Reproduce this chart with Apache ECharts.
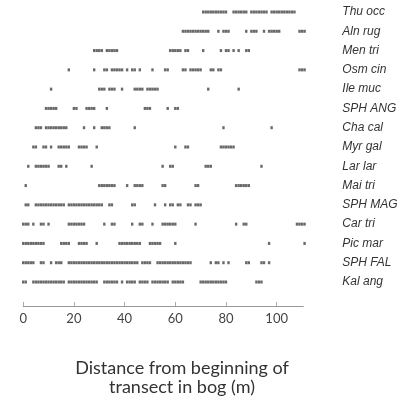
<!DOCTYPE html>
<html>
<head>
<meta charset="utf-8">
<script src="https://cdn.jsdelivr.net/npm/echarts@6/dist/echarts.min.js"></script>
<style>
html,body{margin:0;padding:0;background:#fff;}
#chart{width:408px;height:406px;}
</style>
</head>
<body>
<div id="chart"></div>
<script>
// Species (top to bottom)
const species = ['Thu occ','Aln rug','Men tri','Osm cin','Ile muc','SPH ANG','Cha cal','Myr gal','Lar lar','Mai tri','SPH MAG','Car tri','Pic mar','SPH FAL','Kal ang'];

// Positions (m along transect) where each species was recorded
const thuOcc = [71,72,73,74,75,76,77,78,79,80,83,84,85,86,87,88,90,91,92,93,94,95,96,98,99,100,101,102,103,104,105,106,107];
const alnRug = [63,64,65,66,67,68,69,70,71,72,73,77,79,80,81,88,90,91,92,95,97,98,99,100,101,109,110,111];
const menTri = [28,29,30,31,33,34,35,36,37,58,59,60,61,62,64,65,71,78,80,81,83,85,88,89];
const osmCin = [18,28,32,33,35,36,37,38,39,41,43,44,46,51,56,57,63,64,66,67,68,69,70,74,75,77,78,109,110,111];
const ileMuc = [11,30,31,32,34,35,36,39,44,45,46,47,49,50,51,52,53,73,85];
const sphAng = [9,10,11,12,13,20,21,25,26,27,28,33,48,49,50,57,60,61];
const chaCal = [5,6,7,9,10,11,12,13,14,15,16,17,24,28,31,32,33,34,44,79,98];
const myrGal = [4,5,8,9,11,14,15,16,17,18,22,23,24,25,29,60,64,65,78,79,80,81,82,83];
const larLar = [2,5,6,7,8,9,10,14,15,17,27,55,58,59,72,73,74,94];
const maiTri = [1,30,31,32,33,34,35,36,41,44,45,46,47,55,56,68,69,84,85,86,87,88,89];
const sphMag = [1,2,5,6,7,8,9,10,11,12,13,14,15,16,18,19,20,21,22,23,24,25,26,27,28,29,30,31,34,35,43,44,52,56,58,59,61,62,65,66,68,69,70];
const carTri = [0,1,2,4,7,8,10,18,19,20,21,22,23,24,32,35,36,43,46,47,51,55,56,57,58,59,60,68,84,87,88,108,109,110,111];
const picMar = [0,1,2,3,4,5,6,7,8,15,16,17,18,22,23,24,25,29,38,39,40,41,42,43,44,45,46,50,51,52,53,54,60,97,111];
const sphFal = [0,1,2,3,4,7,8,11,13,14,15,18,19,20,21,22,23,24,25,26,27,28,29,30,31,32,33,34,35,36,37,38,39,40,41,42,43,44,45,47,48,49,50,53,54,55,56,57,58,59,60,61,62,63,64,65,66,74,76,77,79,81,88,89,94,95,97];
const kalAng = [0,1,4,5,6,7,8,9,10,11,12,13,14,15,16,18,19,20,21,22,23,24,25,26,27,28,29,32,33,34,35,36,37,39,41,42,43,44,46,47,48,49,51,52,53,54,55,56,57,59,60,61,62,63,70,71,72,73,74,75,76,77,78,79,80,92,93,94];

const presence = [thuOcc, alnRug, menTri, osmCin, ileMuc, sphAng, chaCal, myrGal, larLar, maiTri, sphMag, carTri, picMar, sphFal, kalAng];

// X axis tick labels
const xTicks = [0, 20, 40, 60, 80, 100];

const data = [];
presence.forEach((arr, i) => arr.forEach(x => data.push([x, species[i]])));

const chart = echarts.init(document.getElementById('chart'), null, {renderer: 'canvas'});
chart.setOption({
  animation: false,
  backgroundColor: '#ffffff',
  title: {
    text: 'Distance from beginning of\ntransect in bog (m)',
    left: 182,
    top: 359,
    textAlign: 'center',
    padding: 0,
    textStyle: {
      fontFamily: 'Lato',
      fontWeight: 'normal',
      fontSize: 18,
      lineHeight: 19,
      color: '#333'
    }
  },
  grid: {left: 23.2, right: 104.7, top: 2.35, bottom: 114.35, containLabel: false},
  xAxis: {
    type: 'value',
    min: 0,
    max: 110.5,
    offset: 14.35,
    splitLine: {show: false},
    axisLine: {show: true, lineStyle: {color: '#999', width: 1}},
    axisTick: {show: true, inside: true, length: 4, lineStyle: {color: '#aaa'}, customValues: xTicks},
    axisLabel: {
      customValues: xTicks,
      color: '#444',
      fontFamily: 'Lato',
      fontSize: 13,
      margin: 6
    }
  },
  yAxis: {
    type: 'category',
    data: species,
    inverse: true,
    position: 'right',
    axisLine: {show: false},
    axisTick: {show: false},
    splitLine: {show: false},
    axisLabel: {
      align: 'left',
      margin: 39,
      color: '#333',
      fontFamily: 'Liberation Sans',
      fontStyle: 'italic',
      fontSize: 12
    }
  },
  series: [{
    type: 'scatter',
    data: data,
    clip: false,
    symbol: 'rect',
    symbolSize: [2.4, 3],
    itemStyle: {color: '#444'}
  }]
});
</script>
</body>
</html>
